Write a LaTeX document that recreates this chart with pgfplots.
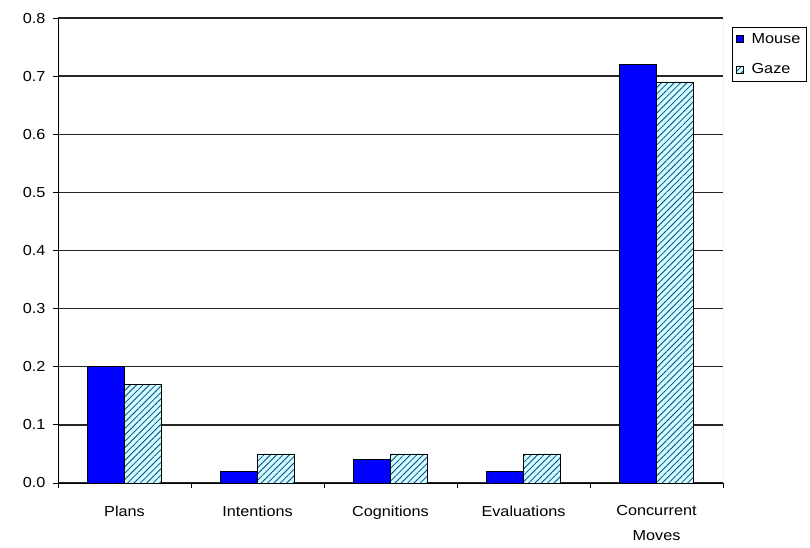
\documentclass[border=0pt]{standalone}
\usepackage{fontspec}
\setmainfont{Liberation Sans}[FakeStretch=1.12]
\usepackage{pgfplots}
\pgfplotsset{compat=1.18}
\usetikzlibrary{patterns.meta}

\definecolor{mouseblue}{RGB}{0,0,255}
\definecolor{gazefill}{RGB}{204,255,255}
\definecolor{hatchblue}{RGB}{20,60,130}
\definecolor{framegray}{RGB}{150,150,150}

\newcommand{\chartfont}{\fontsize{14.5pt}{24.5pt}\selectfont}

% small square swatch for the legend
\pgfplotsset{square legend/.style={
  legend image code/.code={\draw[##1] (0pt,-3.5pt) rectangle (6.5pt,3.5pt);}}}

\begin{document}
\begin{tikzpicture}
\useasboundingbox (0,0) rectangle (810pt,547pt);
\begin{axis}[
  at={(58pt,64pt)}, anchor=south west,
  scale only axis, width=665pt, height=465pt,
  xmin=-0.5, xmax=4.5, ymin=0, ymax=0.8,
  ybar=0pt, bar width=37pt,
  axis x line*=bottom, axis y line*=left,
  axis line style={black, line width=1pt},
  tick align=outside, major tick length=5pt,
  tick style={black, line width=1pt},
  ytick={0,0.1,0.2,0.3,0.4,0.5,0.6,0.7,0.8},
  ymajorgrids, grid style={black!85, line width=1.3pt},
  xtick={-0.5,0.5,1.5,2.5,3.5,4.5}, xticklabels={},
  extra x ticks={0,1,2,3,4},
  extra x tick labels={Plans,Intentions,Cognitions,Evaluations,{Concurrent\\Moves}},
  extra x tick style={major tick length=0pt, grid=none},
  xticklabel style={font=\chartfont, align=center, yshift=-19pt},
  yticklabel style={font=\chartfont, xshift=-4pt,
    /pgf/number format/fixed, /pgf/number format/fixed zerofill,
    /pgf/number format/precision=1},
  /pgf/number format/assume math mode=true,
  legend style={at={(1.0135,0.981)}, anchor=north west,
    draw=black, line width=1pt, font=\fontsize{14.5pt}{16pt}\selectfont,
    row sep=15pt, column sep=6pt, inner xsep=4pt, inner ysep=4pt},
  legend cell align=left,
]
\addplot[fill=mouseblue, draw=black, line width=0.6pt, square legend]
  coordinates {(0,0.20) (1,0.02) (2,0.04) (3,0.02) (4,0.72)};
\addlegendentry{Mouse}
\addplot[fill=gazefill, draw=black, line width=0.6pt,
  postaction={pattern={Lines[angle=45,distance=4.5pt,line width=0.8pt]}, pattern color=hatchblue},
  square legend]
  coordinates {(0,0.17) (1,0.05) (2,0.05) (3,0.05) (4,0.69)};
\addlegendentry{Gaze}
\draw[framegray, line width=1pt] (rel axis cs:1,0) -- (rel axis cs:1,1);
\end{axis}
\end{tikzpicture}
\end{document}
